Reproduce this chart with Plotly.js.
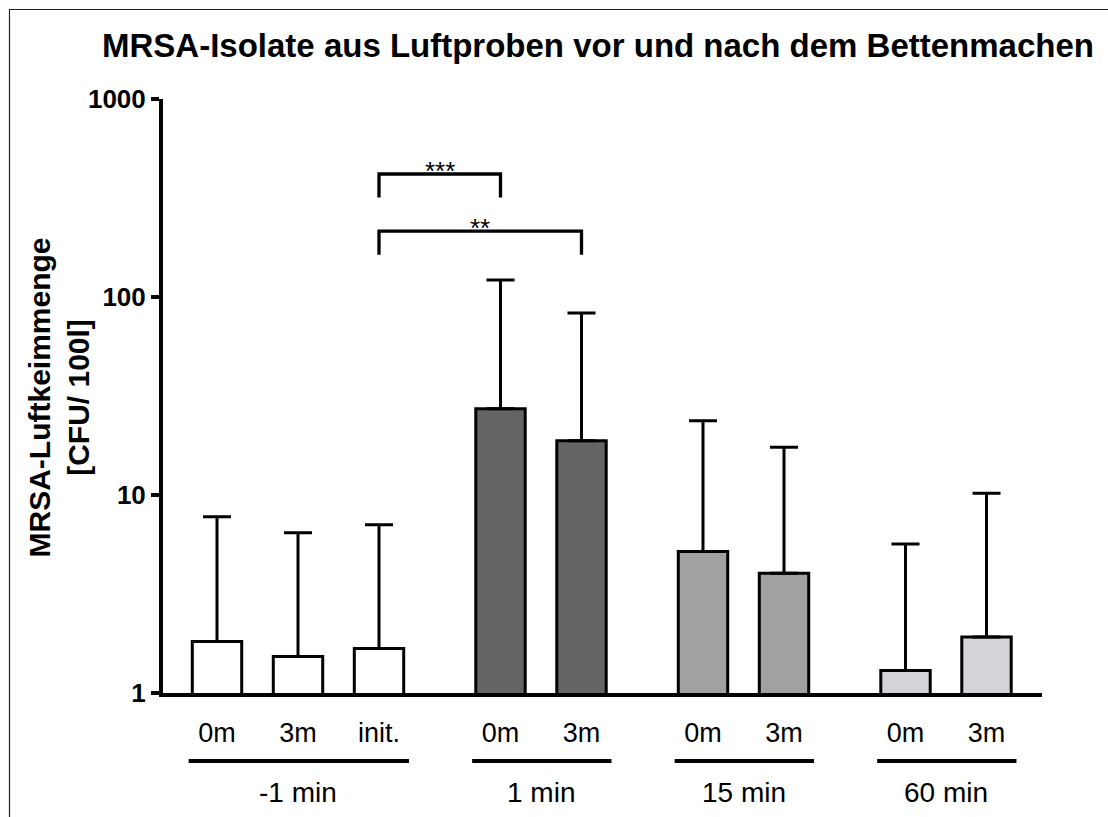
<!DOCTYPE html>
<html>
<head>
<meta charset="utf-8">
<script src="https://cdn.plot.ly/plotly-3.0.1.min.js"></script>
<style>
html,body{margin:0;padding:0;background:#fff;}
#chart{width:1108px;height:817px;}
</style>
</head>
<body>
<div id="chart"></div>
<script>
// ---------- data ----------
const groupNames = ['-1 min', '1 min', '15 min', '60 min'];
const barGroup = [0, 0, 0, 1, 1, 2, 2, 3, 3];
const barLabels = ['0m', '3m', 'init.', '0m', '3m', '0m', '3m', '0m', '3m'];
const meanValues = [1.82, 1.53, 1.68, 27.3, 18.8, 5.18, 4.03, 1.30, 1.92];
const upperValues = [7.77, 6.45, 7.08, 121.9, 83.0, 23.7, 17.4, 5.65, 10.2];
const groupColors = ['#ffffff', '#646464', '#a1a1a1', '#d3d4d8'];
const yTickValues = [1, 10, 100, 1000];
const yTickText = ['1', '10', '100', '1000'];
const compFrom = [2, 2];
const compTo = [3, 4];
const compLabels = ['***', '**'];
const compLevels = [418, 215];

// ---------- layout constants ----------
const W = 1108, H = 817;
const M = {l: 163, r: 66, t: 99, b: 124};
const plotW = W - M.l - M.r, plotH = H - M.t - M.b;
const FONT = 'Liberation Sans, Arial, Helvetica, sans-serif';
const pxToPaperY = py => (H - M.b - py) / plotH;
const pxToPaperX = px => (px - M.l) / plotW;

// bar positions: 1 unit within group, 1.5 between groups
const positions = [];
let pos = 0;
for (let i = 0; i < barGroup.length; i++) {
  if (i > 0) pos += (barGroup[i] !== barGroup[i - 1]) ? 1.5 : 1;
  positions.push(pos);
}

const traces = [];
traces.push({
  type: 'bar',
  x: positions,
  y: meanValues,
  width: 0.61,
  marker: {
    color: barGroup.map(g => groupColors[g]),
    line: {color: '#000000', width: 3}
  },
  error_y: {
    type: 'data',
    symmetric: false,
    array: upperValues.map((u, i) => u - meanValues[i]),
    arrayminus: meanValues.map(() => 0),
    color: '#000000',
    thickness: 3,
    width: 14
  },
  hoverinfo: 'skip',
  showlegend: false
});

// significance brackets
const legFactor = 0.76;
const annotations = [];
for (let k = 0; k < compLabels.length; k++) {
  const xa = positions[compFrom[k]], xb = positions[compTo[k]];
  const top = compLevels[k], low = compLevels[k] * legFactor;
  traces.push({
    type: 'scatter', mode: 'lines',
    x: [xa, xa, xb, xb], y: [low, top, top, low],
    line: {color: '#000000', width: 3.3},
    hoverinfo: 'skip', showlegend: false
  });
  annotations.push({
    xref: 'x', yref: 'y', x: (xa + xb) / 2, y: Math.log10(top),
    text: compLabels[k], showarrow: false, yanchor: 'middle', yshift: 3,
    font: {family: FONT, size: 26, color: '#000000'}
  });
}

// group underlines and labels
const shapes = [];
for (let g = 0; g < groupNames.length; g++) {
  const members = positions.filter((p, i) => barGroup[i] === g);
  const x0 = Math.min(...members) - 0.35, x1 = Math.max(...members) + 0.37;
  shapes.push({
    type: 'line', xref: 'x', yref: 'paper', x0: x0, x1: x1,
    y0: pxToPaperY(761), y1: pxToPaperY(761),
    line: {color: '#000000', width: 4}, layer: 'above'
  });
  annotations.push({
    xref: 'x', yref: 'paper', x: members.reduce((a, b) => a + b, 0) / members.length,
    y: pxToPaperY(793), yanchor: 'middle', xanchor: 'center',
    text: groupNames[g], showarrow: false,
    font: {family: FONT, size: 28, color: '#000000'}
  });
}

// y-axis title
annotations.push({
  xref: 'paper', yref: 'paper', x: pxToPaperX(58.5), y: pxToPaperY(398),
  xanchor: 'center', yanchor: 'middle', textangle: -90,
  text: 'MRSA-Luftkeimmenge<br>[CFU/ 100l]', showarrow: false,
  font: {family: FONT, size: 30, weight: 'bold', color: '#000000'}
});

// outer frame
shapes.push({
  type: 'rect', xref: 'paper', yref: 'paper',
  x0: pxToPaperX(9.5), x1: pxToPaperX(1140),
  y0: pxToPaperY(860), y1: pxToPaperY(9.5),
  line: {color: '#222222', width: 1.2}, fillcolor: 'rgba(0,0,0,0)', layer: 'above'
});

const layout = {
  width: W, height: H,
  margin: M,
  paper_bgcolor: '#ffffff', plot_bgcolor: '#ffffff',
  font: {family: FONT, color: '#000000'},
  title: {
    text: 'MRSA-Isolate aus Luftproben vor und nach dem Bettenmachen',
    font: {family: FONT, size: 33, weight: 'bold', color: '#000000'},
    xref: 'container', x: 598 / W, xanchor: 'center',
    yref: 'container', y: 1 - 45 / H, yanchor: 'middle'
  },
  showlegend: false,
  bargap: 0,
  xaxis: {
    range: [(M.l - 217) / 81, (W - M.r - 217) / 81],
    tickmode: 'array', tickvals: positions, ticktext: barLabels,
    ticks: '', showgrid: false, zeroline: false,
    showline: true, linecolor: '#000000', linewidth: 4,
    tickfont: {family: FONT, size: 27, color: '#000000'},
    ticklabelstandoff: 13,
    fixedrange: true
  },
  yaxis: {
    type: 'log', range: [0, 3],
    tickmode: 'array', tickvals: yTickValues, ticktext: yTickText,
    ticks: 'outside', ticklen: 8, tickwidth: 4, tickcolor: '#000000',
    showgrid: false, zeroline: false,
    showline: true, linecolor: '#000000', linewidth: 4,
    tickfont: {family: FONT, size: 26, weight: 'bold', color: '#000000'},
    ticklabelstandoff: 0,
    fixedrange: true
  },
  shapes: shapes,
  annotations: annotations
};

Plotly.newPlot('chart', traces, layout, {displayModeBar: false, staticPlot: true});
</script>
</body>
</html>
